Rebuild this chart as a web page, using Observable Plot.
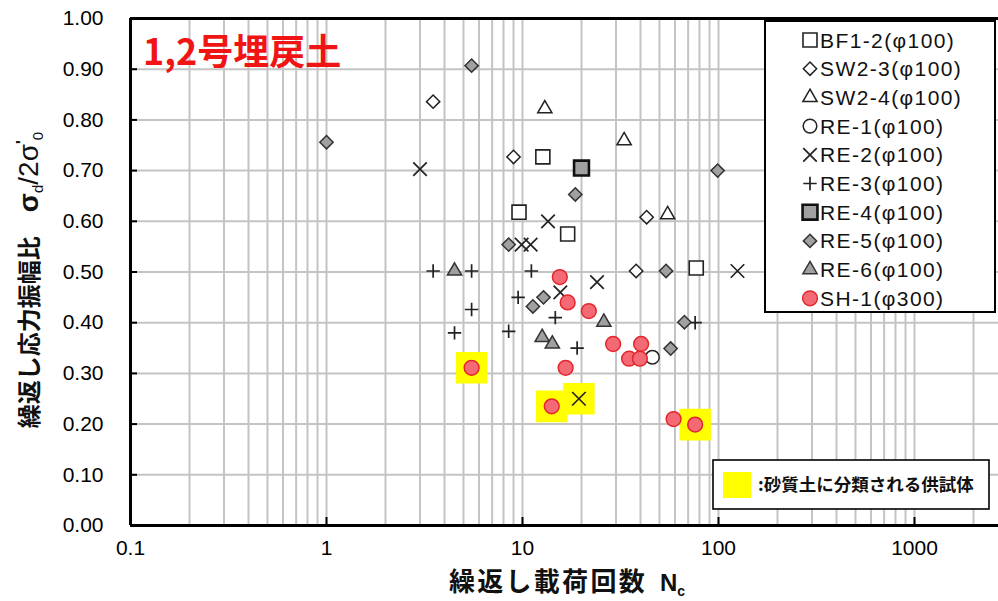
<!DOCTYPE html>
<html><head><meta charset="utf-8">
<script src="https://cdn.jsdelivr.net/npm/d3@7"></script>
<script src="https://cdn.jsdelivr.net/npm/@observablehq/plot@0.6"></script>
<style>
body{margin:0;background:#fff;}
#chart{width:998px;height:601px;}
</style>
</head><body><div id="chart"></div>
<script>
// ---- data ----
const seriesNames = ["BF1-2(φ100)","SW2-3(φ100)","SW2-4(φ100)","RE-1(φ100)","RE-2(φ100)","RE-3(φ100)","RE-4(φ100)","RE-5(φ100)","RE-6(φ100)","SH-1(φ300)"];
const bf12N = [12.7, 9.6, 17, 77];
const bf12R = [0.727, 0.618, 0.575, 0.508];
const sw23N = [3.5, 9.0, 43, 38];
const sw23R = [0.836, 0.727, 0.608, 0.502];
const sw24N = [13, 33, 55];
const sw24R = [0.822, 0.759, 0.613];
const re1N = [46];
const re1R = [0.332];
const re2N = [3.0, 13.5, 9.9, 11.0, 24, 15.6, 125, 19.4];
const re2R = [0.703, 0.600, 0.554, 0.554, 0.480, 0.460, 0.502, 0.250];
const re3N = [3.5, 5.5, 11.1, 9.5, 5.5, 14.7, 4.5, 8.5, 19, 76];
const re3R = [0.502, 0.502, 0.502, 0.450, 0.426, 0.410, 0.380, 0.383, 0.350, 0.400];
const re4N = [20];
const re4R = [0.705];
const re5N = [5.5, 1.0, 18.6, 8.5, 99, 54, 11.3, 12.8, 67, 57];
const re5R = [0.907, 0.756, 0.653, 0.554, 0.700, 0.502, 0.432, 0.450, 0.401, 0.349];
const re6N = [4.5, 26, 12.6, 14.2];
const re6R = [0.502, 0.401, 0.371, 0.358];
const sh1N = [15.5, 17, 21.8, 29, 40.3, 35, 39.7, 5.5, 16.6, 14.1, 59, 76];
const sh1R = [0.490, 0.440, 0.423, 0.358, 0.358, 0.329, 0.329, 0.311, 0.311, 0.235, 0.210, 0.199];
const sandyN = [5.5, 14.1, 19.4, 76];
const sandyR = [0.311, 0.235, 0.250, 0.199];
const xTickValues = [0.1, 1, 10, 100, 1000];
const xTickLabels = ["0.1", "1", "10", "100", "1000"];
const yTickValues = [0, 0.1, 0.2, 0.3, 0.4, 0.5, 0.6, 0.7, 0.8, 0.9, 1.0];
const yTickLabels = ["0.00","0.10","0.20","0.30","0.40","0.50","0.60","0.70","0.80","0.90","1.00"];
const titleText = "1,2号埋戻土";
const sandyLabel = ":砂質土に分類される供試体";

// ---- styles ----
const GRAY = "#a0a0a0";
const styles = [
  {symbol:"square",    r:7.9, fill:"#fff", stroke:"#222", sw:1.6},
  {symbol:"diamond2",  r:6.0, fill:"#fff", stroke:"#222", sw:1.5},
  {symbol:"triangle2", r:6.8, fill:"#fff", stroke:"#222", sw:1.5},
  {symbol:"circle",    r:6.8, fill:"#fff", stroke:"#222", sw:1.5},
  {symbol:"times",     r:6.2, fill:"none", stroke:"#222", sw:1.7},
  {symbol:"plus",      r:4.4, fill:"none", stroke:"#222", sw:1.7},
  {symbol:"square",    r:8.4, fill:GRAY,   stroke:"#111", sw:2.6},
  {symbol:"diamond2",  r:6.0, fill:GRAY,   stroke:"#333", sw:1.5},
  {symbol:"triangle2", r:6.8, fill:GRAY,   stroke:"#333", sw:1.5},
  {symbol:"circle",    r:7.4, fill:"#f46a74", stroke:"#e2262c", sw:1.5}
];
const seriesN = [bf12N, sw23N, sw24N, re1N, re2N, re3N, re4N, re5N, re6N, sh1N];
const seriesR = [bf12R, sw23R, sw24R, re1R, re2R, re3R, re4R, re5R, re6R, sh1R];
const series = seriesN.map((ns, k) => ns.map((n, i) => ({n, r: seriesR[k][i]})));
const sandy = sandyN.map((n, i) => ({n, r: sandyR[i]}));

const NUM = "'Liberation Sans', Arial, sans-serif";
const JP = "'Noto Sans CJK JP', 'Noto Sans', sans-serif";

const xMax = 2683;
const gridX = [];
for (let e = -1; e <= 3; e++) for (let m = 1; m <= 9; m++) { const v = m * Math.pow(10, e); if (v > 0.1 && v < xMax) gridX.push(+v.toPrecision(3)); }
const gridY = yTickValues.slice(1, -1);

const chart = Plot.plot({
  width: 998, height: 601,
  marginLeft: 130, marginRight: 0, marginTop: 18, marginBottom: 76,
  x: {type: "log", domain: [0.1, xMax]},
  y: {domain: [0, 1]},
  style: {fontFamily: NUM, background: "#fff", color: "#000"},
  marks: [
    Plot.ruleX(gridX, {stroke: "#c4c4c4", strokeWidth: 2}),
    Plot.ruleY(gridY, {stroke: "#c4c4c4", strokeWidth: 2}),
    Plot.dot(sandy, {x: "n", y: "r", symbol: "square", r: 17.8, fill: "#ffff00", stroke: null}),
    ...series.map((d, k) => Plot.dot(d, {x: "n", y: "r", symbol: styles[k].symbol, r: styles[k].r, fill: styles[k].fill, stroke: styles[k].stroke, strokeWidth: styles[k].sw})),
    Plot.ruleX([0.1], {stroke: "#000", strokeWidth: 3}),
    Plot.ruleY([0, 1], {stroke: "#000", strokeWidth: 3}),
    Plot.axisX(xTickValues, {tickFormat: d => xTickLabels[xTickValues.indexOf(d)], tickSize: 0, tickPadding: 15, fontSize: 21, label: null, fill: "#000"}),
    Plot.axisX(xTickValues.slice(1), {tickSize: 8, dy: -8, text: null, label: null, stroke: "#000", strokeWidth: 2}),
    Plot.axisY(yTickValues, {tickFormat: d => yTickLabels[yTickValues.indexOf(d)], tickSize: 0, tickPadding: 27, fontSize: 21, label: null, fill: "#000"}),
    Plot.axisY(gridY, {tickSize: 7, dx: 7, text: null, label: null, stroke: "#000", strokeWidth: 2})
  ]
});
document.getElementById("chart").appendChild(chart);

// ---- decorations: title, axis titles, legends ----
const svg = d3.select(chart);
svg.append("text").attr("x", 143).attr("y", 65).attr("text-anchor", "start")
  .attr("font-family", JP).attr("font-weight", 700).attr("font-size", 36)
  .attr("fill", "#f01414").text(titleText);

// x axis title
const xt = svg.append("text").attr("x", 567).attr("y", 591).attr("text-anchor", "middle")
  .attr("font-family", JP).attr("font-weight", 700).attr("font-size", 26).attr("fill", "#111");
xt.append("tspan").attr("letter-spacing", 2.3).text("繰返し載荷回数");
xt.append("tspan").attr("font-family", NUM).attr("font-size", 24).attr("dx", 13).text("N");
xt.append("tspan").attr("font-family", NUM).attr("font-size", 14).attr("dy", 5).text("c");

// y axis title
const yt = svg.append("text").attr("transform", "translate(38,280) rotate(-90)").attr("text-anchor", "middle")
  .attr("font-family", JP).attr("font-weight", 700).attr("font-size", 24).attr("fill", "#111");
yt.append("tspan").text("繰返し応力振幅比　");
yt.append("tspan").attr("font-family", NUM).attr("font-size", 28).attr("font-weight", 700).text("σ");
yt.append("tspan").attr("font-family", NUM).attr("font-size", 15).attr("font-weight", 400).attr("dy", 5).text("d");
yt.append("tspan").attr("font-family", NUM).attr("font-size", 28).attr("font-weight", 400).attr("dy", -5).text("/2σ");
yt.append("tspan").attr("font-family", NUM).attr("font-size", 16).attr("font-weight", 700).attr("dy", -10).text("'");
yt.append("tspan").attr("font-family", NUM).attr("font-size", 15).attr("font-weight", 400).attr("dy", 15).text("0");

// series legend
const lg = svg.append("g").attr("text-anchor", "start");
lg.append("rect").attr("x", 765).attr("y", 21).attr("width", 230).attr("height", 291)
  .attr("fill", "#fff").attr("stroke", "#000").attr("stroke-width", 2);
const symMap = {square: d3.symbolSquare, diamond2: d3.symbolDiamond2, triangle2: d3.symbolTriangle2, circle: d3.symbolCircle, times: d3.symbolTimes, plus: d3.symbolPlus};
seriesNames.forEach((name, k) => {
  const cy = 40 + k * 28.7;
  const s = styles[k];
  lg.append("path").attr("transform", `translate(810,${cy})`)
    .attr("d", d3.symbol(symMap[s.symbol], Math.PI * s.r * s.r)())
    .attr("fill", s.fill).attr("stroke", s.stroke).attr("stroke-width", s.sw);
  lg.append("text").attr("x", 820).attr("y", cy + 7.5).attr("text-anchor", "start")
    .attr("font-family", NUM).attr("font-size", 21).attr("letter-spacing", 1.4).attr("fill", "#111")
    .text(name);
});

// sandy soil legend
const lg2 = svg.append("g").attr("text-anchor", "start");
lg2.append("rect").attr("x", 713).attr("y", 460).attr("width", 276).attr("height", 49)
  .attr("fill", "#fff").attr("stroke", "#000").attr("stroke-width", 1.6);
lg2.append("rect").attr("x", 723).attr("y", 472).attr("width", 28).attr("height", 26).attr("fill", "#ffff00");
lg2.append("text").attr("x", 758).attr("y", 491).attr("text-anchor", "start")
  .attr("font-family", JP).attr("font-weight", 700).attr("font-size", 17.5).attr("fill", "#111")
  .text(sandyLabel);
</script>
</body></html>
